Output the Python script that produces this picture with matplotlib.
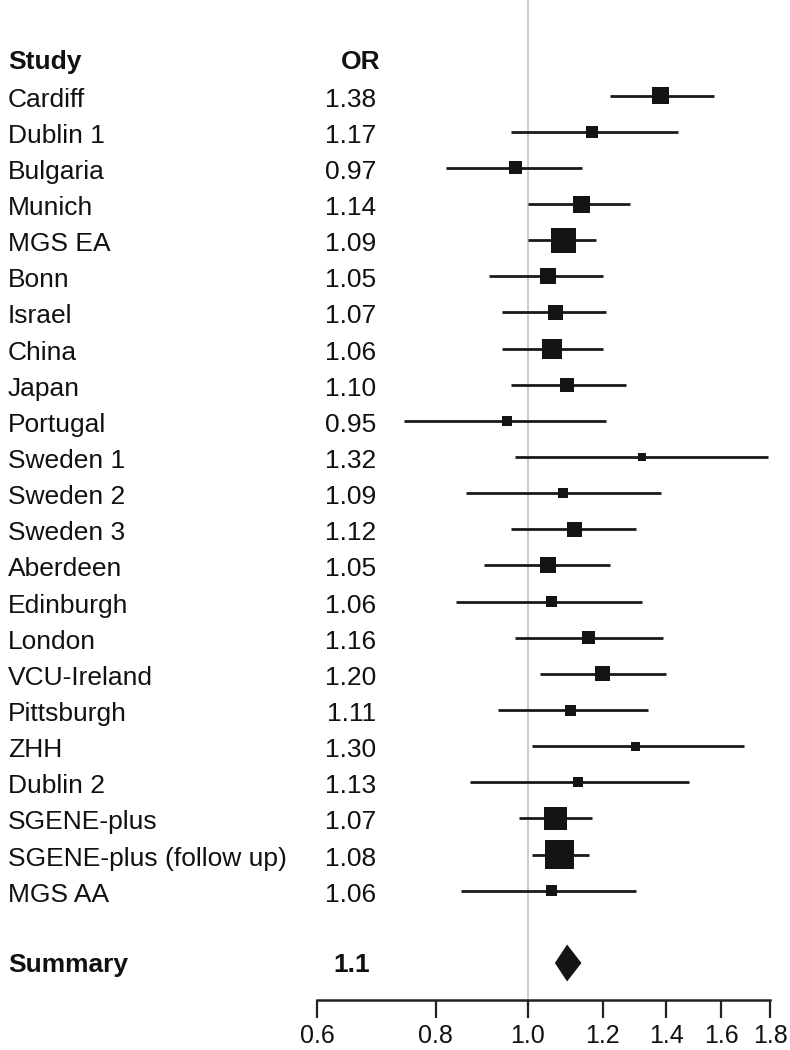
import matplotlib
matplotlib.use("Agg")
import matplotlib.pyplot as plt
import numpy as np

# study data
studies = ["Cardiff", "Dublin 1", "Bulgaria", "Munich", "MGS EA", "Bonn",
           "Israel", "China", "Japan", "Portugal", "Sweden 1", "Sweden 2",
           "Sweden 3", "Aberdeen", "Edinburgh", "London", "VCU-Ireland",
           "Pittsburgh", "ZHH", "Dublin 2", "SGENE-plus",
           "SGENE-plus (follow up)", "MGS AA"]
odds_ratio = [1.38, 1.17, 0.97, 1.14, 1.09, 1.05, 1.07, 1.06, 1.10, 0.95,
              1.32, 1.09, 1.12, 1.05, 1.06, 1.16, 1.20, 1.11, 1.30, 1.13,
              1.07, 1.08, 1.06]
ci_low = [1.22, 0.96, 0.82, 1.00, 1.00, 0.91, 0.94, 0.94, 0.96, 0.74,
          0.97, 0.86, 0.96, 0.90, 0.84, 0.97, 1.03, 0.93, 1.01, 0.87,
          0.98, 1.01, 0.85]
ci_high = [1.57, 1.44, 1.14, 1.28, 1.18, 1.20, 1.21, 1.20, 1.27, 1.21,
           1.79, 1.38, 1.30, 1.22, 1.32, 1.39, 1.40, 1.34, 1.69, 1.48,
           1.17, 1.16, 1.30]
# relative study weight (box side)
weights = [17, 12, 13, 17, 25, 16, 15, 20, 14, 10, 8, 10, 15, 16, 11, 13,
           15, 11, 9, 10, 23, 29, 11]
summary_or = 1.1
summary_ci = (1.068, 1.139)
xticks = [0.6, 0.8, 1.0, 1.2, 1.4, 1.6, 1.8]

W, H = 790, 1050
ROW = 36.14
ROW0 = 59.5  # pixel of header row

plt.rcParams['font.family'] = ['Liberation Sans', 'DejaVu Sans']
fig = plt.figure(figsize=(W / 100, H / 100), dpi=100)
ax = fig.add_axes([317.3 / W, 50 / H, (770 - 317.3) / W, 1000 / H])
ax.set_xscale("log")
ax.set_xlim(0.6, 1.8)
ax.set_ylim((1000 - ROW0) / ROW, -ROW0 / ROW)

ax.axvline(1.0, color="#c4c4c4", lw=1.2, zorder=0)

rows = np.arange(1, len(studies) + 1)
ax.hlines(rows, ci_low, ci_high, color="#1a1a1a", lw=2.0)
ax.scatter(odds_ratio, rows, marker="s", s=(np.array(weights) * 0.72) ** 2,
           color="#141414", zorder=3, linewidths=0)

# summary diamond
srow = len(studies) + 2
dh = 18.5 / ROW
ax.fill([summary_ci[0], summary_or, summary_ci[1], summary_or],
        [srow, srow - dh, srow, srow + dh], color="#141414", lw=0)

# axis styling
for s in ["top", "right", "left"]:
    ax.spines[s].set_visible(False)
ax.spines["bottom"].set_linewidth(1.8)
ax.spines["bottom"].set_color("#222222")
ax.set_yticks([])
ax.xaxis.set_minor_locator(matplotlib.ticker.NullLocator())
ax.set_xticks(xticks)
ax.set_xticklabels(["%.1f" % t for t in xticks])
ax.tick_params(axis="x", direction="out", length=13, width=1.6,
               color="#222222", labelsize=18, pad=4, labelcolor="#111111")

# text columns, placed by baseline in pixels
fs = 19
def ypos(k, off=11):
    return 1 - (ROW0 + ROW * k + off) / H

fig.text(8 / W, ypos(0, 10), "Study", fontsize=fs, fontweight="bold",
         va="baseline", ha="left", color="#111111")
fig.text(380 / W, ypos(0, 10), "OR", fontsize=fs, fontweight="bold",
         va="baseline", ha="right", color="#111111")
for k, (name, orv) in enumerate(zip(studies, odds_ratio), start=1):
    fig.text(8 / W, ypos(k), name, fontsize=fs, va="baseline", ha="left",
             color="#111111")
    fig.text(376 / W, ypos(k), "%.2f" % orv, fontsize=fs, va="baseline",
             ha="right", color="#111111")
fig.text(8 / W, ypos(srow, 9), "Summary", fontsize=fs, fontweight="bold",
         va="baseline", ha="left", color="#111111")
fig.text(370 / W, ypos(srow, 9), "%g" % summary_or, fontsize=fs,
         fontweight="bold", va="baseline", ha="right", color="#111111")

fig.savefig("out.png", dpi=100)
